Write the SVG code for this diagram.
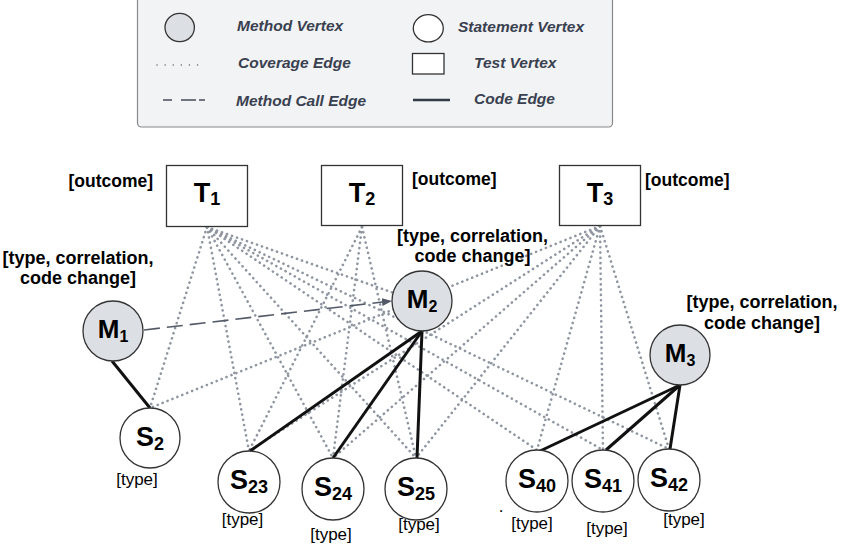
<svg xmlns="http://www.w3.org/2000/svg" width="842" height="549" viewBox="0 0 842 549">
<style>
text{font-family:"Liberation Sans",Arial,sans-serif;fill:#000}
.lg{font-size:15.5px;font-weight:bold;font-style:italic;fill:#394150}
.nl{font-size:27px;font-weight:bold;text-anchor:middle}
.ml{font-size:26px;font-weight:bold;text-anchor:middle}
.sub{font-size:18px}
.msub{font-size:16px}
.attr{font-size:18px;font-weight:bold;text-anchor:middle}
.out{font-size:17.5px;font-weight:bold}
.ty{font-size:17px;text-anchor:middle}
.test{fill:#fff;stroke:#333;stroke-width:1.3}
.meth{fill:#dcdfe4;stroke:#333;stroke-width:1.3}
.stmt{fill:#fff;stroke:#333;stroke-width:1.3}
.cov{fill:none;stroke:#8f96a1;stroke-width:2.6;stroke-linecap:round;stroke-dasharray:0.1 5.2}
.code{fill:none;stroke:#111;stroke-width:3}
.call{fill:none;stroke:#535a67;stroke-width:1.6;stroke-dasharray:16 7}
</style>
<defs>
<marker id="arr" markerWidth="10" markerHeight="8" refX="9" refY="4" orient="auto" markerUnits="userSpaceOnUse">
<path d="M0,0 L10,4 L0,8 z" fill="#535a67"/>
</marker>
</defs>

<g id="legend">
<rect x="137.5" y="-10" width="475" height="137" rx="4" fill="#f2f3f5" stroke="#888" stroke-width="1.2"/>
<ellipse cx="179.7" cy="27.5" rx="14.7" ry="14.2" class="meth"/>
<text x="237" y="31" class="lg">Method Vertex</text>
<ellipse cx="428.3" cy="28.3" rx="15" ry="13.6" class="stmt"/>
<text x="458" y="31.5" class="lg">Statement Vertex</text>
<line x1="157" y1="65" x2="205" y2="65" stroke="#666" stroke-width="1.4" stroke-linecap="round" stroke-dasharray="0.1 8"/>
<text x="238" y="68" class="lg">Coverage Edge</text>
<rect x="412.5" y="53.5" width="31.5" height="20.5" class="test"/>
<text x="474" y="68" class="lg">Test Vertex</text>
<line x1="163" y1="100" x2="205" y2="100" stroke="#444b57" stroke-width="1.5" stroke-dasharray="9 9 15 3"/>
<text x="236" y="106" class="lg">Method Call Edge</text>
<line x1="413" y1="100" x2="450" y2="100" stroke="#333b49" stroke-width="2.6"/>
<text x="474" y="104" class="lg">Code Edge</text>
</g>

<g id="connectors">
<g id="coverage-edges">
<line class="cov" x1="207" y1="227" x2="150" y2="408"/>
<line class="cov" x1="207" y1="227" x2="249" y2="451"/>
<line class="cov" x1="207" y1="227" x2="333" y2="458"/>
<line class="cov" x1="207" y1="227" x2="416" y2="458"/>
<line class="cov" x1="207" y1="227" x2="537" y2="450"/>
<line class="cov" x1="207" y1="227" x2="603" y2="450"/>
<line class="cov" x1="207" y1="227" x2="669" y2="449"/>
<line class="cov" x1="207" y1="227" x2="394" y2="293"/>
<line class="cov" x1="362" y1="227" x2="249" y2="451"/>
<line class="cov" x1="362" y1="227" x2="333" y2="458"/>
<line class="cov" x1="362" y1="227" x2="416" y2="458"/>
<line class="cov" x1="600" y1="226" x2="150" y2="408"/>
<line class="cov" x1="600" y1="226" x2="249" y2="451"/>
<line class="cov" x1="600" y1="226" x2="333" y2="458"/>
<line class="cov" x1="600" y1="226" x2="416" y2="458"/>
<line class="cov" x1="600" y1="226" x2="537" y2="450"/>
<line class="cov" x1="600" y1="226" x2="603" y2="450"/>
<line class="cov" x1="600" y1="226" x2="669" y2="449"/>
</g>
<line id="call-M1-M2" class="call" x1="144" y1="330" x2="391" y2="301" marker-end="url(#arr)"/>
<g id="code-edges">
<line class="code" x1="112" y1="361" x2="150" y2="408"/>
<line class="code" x1="422" y1="331" x2="250" y2="451"/>
<line class="code" x1="422" y1="331" x2="333" y2="458"/>
<line class="code" x1="422" y1="331" x2="417" y2="458"/>
<line class="code" x1="680" y1="385" x2="540" y2="451"/>
<line class="code" x1="680" y1="385" x2="606" y2="450"/>
<line class="code" x1="680" y1="385" x2="670" y2="449"/>
</g>
</g>

<g id="T1">
<rect x="166.5" y="165.5" width="81" height="61" class="test"/>
<text x="207" y="202" class="nl">T<tspan class="sub" dy="3">1</tspan></text>
<text x="153" y="187" class="out" text-anchor="end">[outcome]</text>
</g>
<g id="T2">
<rect x="321.5" y="165.5" width="81" height="60" class="test"/>
<text x="362" y="201.5" class="nl">T<tspan class="sub" dy="3">2</tspan></text>
<text x="412" y="185" class="out">[outcome]</text>
</g>
<g id="T3">
<rect x="559.5" y="165.5" width="81" height="60" class="test"/>
<text x="600" y="202" class="nl">T<tspan class="sub" dy="3">3</tspan></text>
<text x="645" y="186" class="out">[outcome]</text>
</g>

<g id="M1">
<circle cx="113" cy="331" r="30" class="meth"/>
<text x="113" y="338" class="ml">M<tspan class="msub" dy="3.5">1</tspan></text>
<text x="78" y="263.5" class="attr">[type, correlation,</text>
<text x="78" y="284" class="attr">code change]</text>
</g>
<g id="M2">
<circle cx="422" cy="301" r="30" class="meth"/>
<text x="422" y="308" class="ml">M<tspan class="msub" dy="3.5">2</tspan></text>
<text x="472.5" y="242" class="attr">[type, correlation,</text>
<text x="472.5" y="262" class="attr">code change]</text>
</g>
<g id="M3">
<circle cx="680" cy="355" r="30" class="meth"/>
<text x="680" y="362" class="ml">M<tspan class="msub" dy="3.5">3</tspan></text>
<text x="762" y="308" class="attr">[type, correlation,</text>
<text x="762" y="329" class="attr">code change]</text>
</g>

<g id="S2">
<circle cx="150" cy="438" r="30" class="stmt"/>
<text x="150" y="446" class="nl">S<tspan class="sub" dy="4">2</tspan></text>
<text x="137" y="485" class="ty">[type]</text>
</g>
<g id="S23">
<circle cx="249" cy="482" r="31" class="stmt"/>
<text x="249" y="489" class="nl">S<tspan class="sub" dy="4">23</tspan></text>
<text x="242.5" y="525" class="ty">[type]</text>
</g>
<g id="S24">
<circle cx="333" cy="489" r="31" class="stmt"/>
<text x="333" y="496" class="nl">S<tspan class="sub" dy="4">24</tspan></text>
<text x="331" y="540" class="ty">[type]</text>
</g>
<g id="S25">
<circle cx="416" cy="489" r="31" class="stmt"/>
<text x="416" y="496" class="nl">S<tspan class="sub" dy="4">25</tspan></text>
<text x="419" y="530" class="ty">[type]</text>
</g>
<g id="S40">
<circle cx="537" cy="481" r="31" class="stmt"/>
<text x="537" y="488" class="nl">S<tspan class="sub" dy="4">40</tspan></text>
<text x="532" y="529" class="ty">[type]</text>
</g>
<g id="S41">
<circle cx="603" cy="481" r="31" class="stmt"/>
<text x="603" y="488" class="nl">S<tspan class="sub" dy="4">41</tspan></text>
<text x="607" y="534" class="ty">[type]</text>
</g>
<g id="S42">
<circle cx="669" cy="480" r="31" class="stmt"/>
<text x="669" y="487" class="nl">S<tspan class="sub" dy="4">42</tspan></text>
<text x="684" y="525" class="ty">[type]</text>
</g>
<text x="501" y="512" class="ty">.</text>
</svg>
